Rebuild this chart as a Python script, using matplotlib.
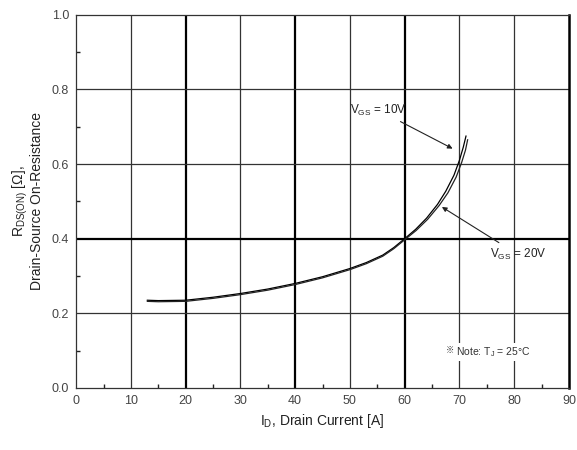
import numpy as np
import matplotlib
matplotlib.use("Agg")
from matplotlib import pyplot as plt
from matplotlib.ticker import MultipleLocator

plt.rcParams["font.family"] = ["Liberation Sans", "Noto Sans CJK JP", "DejaVu Sans"]
plt.rcParams["mathtext.default"] = "regular"

# drain current [A] and on-resistance [ohm]
id_10v = [13, 15, 20, 25, 30, 35, 40, 45, 50, 53, 56, 58, 60, 62, 64, 66,
          67.5, 69, 70, 70.7, 71.2]
rds_10v = [0.235, 0.234, 0.235, 0.243, 0.253, 0.265, 0.280, 0.298, 0.320,
           0.336, 0.356, 0.376, 0.400, 0.425, 0.455, 0.492, 0.527, 0.570,
           0.610, 0.645, 0.675]
id_20v = [13, 15, 20, 25, 30, 35, 40, 45, 50, 53, 56, 58, 60, 62.1, 64.2,
          66.3, 67.9, 69.4, 70.4, 71.1, 71.5]
rds_20v = [0.232, 0.231, 0.232, 0.240, 0.250, 0.262, 0.277, 0.295, 0.317,
           0.333, 0.353, 0.373, 0.397, 0.422, 0.452, 0.489, 0.523, 0.565,
           0.604, 0.637, 0.665]

x_major = [0, 10, 20, 30, 40, 50, 60, 70, 80, 90]
y_major = [0.0, 0.2, 0.4, 0.6, 0.8, 1.0]
x_bold = [20, 40, 60]
y_bold = [0.4]

fig = plt.figure(figsize=(5.77, 4.5), dpi=100)
ax = fig.add_axes([0.132, 0.138, 0.854, 0.829])
ax.set_xlim(0, 90)
ax.set_ylim(0, 1.0)

for xv in x_major[1:-1]:
    bold = xv in x_bold
    ax.axvline(xv, color="black" if bold else "#333333",
               lw=1.6 if bold else 0.9, zorder=1)
for yv in y_major[1:-1]:
    bold = yv in y_bold
    ax.axhline(yv, color="black" if bold else "#333333",
               lw=1.6 if bold else 0.9, zorder=1)

ax.plot(id_10v, rds_10v, color="black", lw=0.9, zorder=3)
ax.plot(id_20v, rds_20v, color="#222222", lw=0.9, zorder=3)

ax.annotate("V$_{GS}$ = 10V", xy=(69.2, 0.638), xytext=(60.3, 0.745),
            ha="right", va="center", fontsize=8.5, color="#222222",
            arrowprops=dict(arrowstyle="-|>", color="#222222", lw=0.8,
                            mutation_scale=7))
ax.annotate("V$_{GS}$ = 20V", xy=(66.8, 0.485), xytext=(75.5, 0.378),
            ha="left", va="top", fontsize=8.5, color="#222222",
            arrowprops=dict(arrowstyle="-|>", color="#222222", lw=0.8,
                            mutation_scale=7, shrinkB=0),
            annotation_clip=False)

# note box: the reference mark is kept out of mathtext so the CJK font can draw it
note_box = dict(facecolor="white", edgecolor="none", pad=1.5)
ax.text(67.6, 0.097, "※", ha="left", va="center", fontsize=6,
        color="#333333", zorder=4, bbox=note_box)
ax.text(69.3, 0.097, "Note: T$_J$ = 25°C", ha="left", va="center",
        fontsize=7.5, color="#333333", zorder=4, bbox=note_box)

ax.set_xticks(x_major)
ax.set_yticks(y_major)
ax.set_yticklabels([f"{v:.1f}" for v in y_major])
ax.xaxis.set_minor_locator(MultipleLocator(5))
ax.yaxis.set_minor_locator(MultipleLocator(0.1))
ax.tick_params(which="major", length=0, labelsize=9, colors="#444444", pad=5)
ax.tick_params(which="minor", direction="in", length=3, width=1.0,
               colors="#222222", top=False, right=False)

for side in ["left", "bottom", "top"]:
    ax.spines[side].set_linewidth(0.9)
    ax.spines[side].set_color("#333333")
ax.spines["right"].set_linewidth(1.8)
ax.spines["right"].set_color("black")

ax.set_xlabel("I$_D$, Drain Current [A]", fontsize=10, color="#222222", labelpad=4)
ax.set_ylabel("R$_{DS(ON)}$ [Ω],\nDrain-Source On-Resistance", fontsize=10,
              color="#222222", linespacing=0.95, labelpad=6)

fig.savefig("out.png", dpi=100)
